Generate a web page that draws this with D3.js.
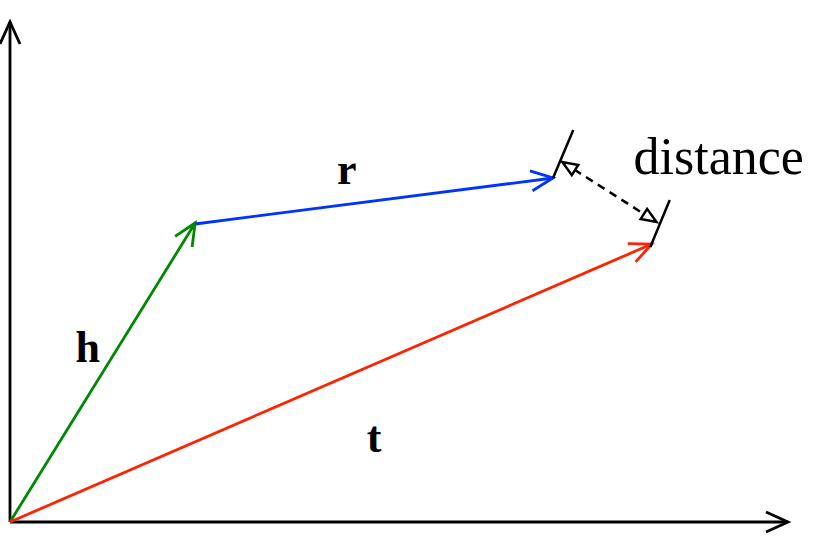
<!DOCTYPE html>
<html><head><meta charset="utf-8">
<script src="https://cdn.jsdelivr.net/npm/d3@7"></script>
<style>body{margin:0;background:#fff}</style></head>
<body><svg id="c" width="830" height="544"></svg>
<script>
// vectors in diagram units (0..100 on both axes)
const vectors = [
  {name: "h", from: [0, 0], to: [23.8, 59.8], color: "#008800"},
  {name: "r", from: [23.8, 59.6], to: [69.8, 68.8], color: "#0033ff"},
  {name: "t", from: [0, 0], to: [82.5, 55.6], color: "#ff2200"},
];
const axes = [[[0, 0], [100, 0]], [[0, 0], [0, 100]]];
const ticks = [[[69.8, 68.8], [72.4, 78.4]], [[82.3, 55.0], [84.8, 64.4]]];
const distance = [[71.0, 72.0], [83.1, 60.0]];
const labels = [
  {text: "h", at: [10, 32], bold: true, size: 44},
  {text: "r", at: [43.3, 67.6], bold: true, size: 44},
  {text: "t", at: [46.8, 14], bold: true, size: 44},
  {text: "distance", at: [91.1, 69.6], bold: false, size: 52},
];

const x = d3.scaleLinear().domain([0, 100]).range([10, 788]);
const y = d3.scaleLinear().domain([0, 100]).range([522, 22]);
const svg = d3.select("#c");

function head(p, q, len, half) {
  const [x1, y1] = [x(p[0]), y(p[1])], [x2, y2] = [x(q[0]), y(q[1])];
  const a = Math.atan2(y2 - y1, x2 - x1);
  const bx = x2 - len * Math.cos(a), by = y2 - len * Math.sin(a);
  const nx = -Math.sin(a) * half, ny = Math.cos(a) * half;
  return [[bx + nx, by + ny], [x2, y2], [bx - nx, by - ny]];
}

function arrow(p, q, color, w) {
  svg.append("line").attr("x1", x(p[0])).attr("y1", y(p[1]))
    .attr("x2", x(q[0])).attr("y2", y(q[1]))
    .attr("stroke", color).attr("stroke-width", w);
  svg.append("polyline").attr("points", head(p, q, 22, 10).join(" "))
    .attr("fill", "none").attr("stroke", color).attr("stroke-width", w);
}

axes.forEach((a) => arrow(a[0], a[1], "#000", 2.8));
vectors.forEach((v) => arrow(v.from, v.to, v.color, 2.8));

ticks.forEach((t) => svg.append("line")
  .attr("x1", x(t[0][0])).attr("y1", y(t[0][1]))
  .attr("x2", x(t[1][0])).attr("y2", y(t[1][1]))
  .attr("stroke", "#000").attr("stroke-width", 2.5));

svg.append("line")
  .attr("x1", x(distance[0][0])).attr("y1", y(distance[0][1]))
  .attr("x2", x(distance[1][0])).attr("y2", y(distance[1][1]))
  .attr("stroke", "#000").attr("stroke-width", 2.5).attr("stroke-dasharray", "8,6");
[[distance[1], distance[0]], [distance[0], distance[1]]].forEach(([p, q]) =>
  svg.append("polygon").attr("points", head(p, q, 15, 6).join(" "))
    .attr("fill", "#fff").attr("stroke", "#000").attr("stroke-width", 2.5));

labels.forEach((l) => svg.append("text")
  .attr("x", x(l.at[0])).attr("y", y(l.at[1]))
  .attr("text-anchor", "middle")
  .attr("font-family", "Liberation Serif, serif")
  .attr("font-size", l.size)
  .attr("font-weight", l.bold ? "bold" : "normal")
  .text(l.text));
</script></body></html>
